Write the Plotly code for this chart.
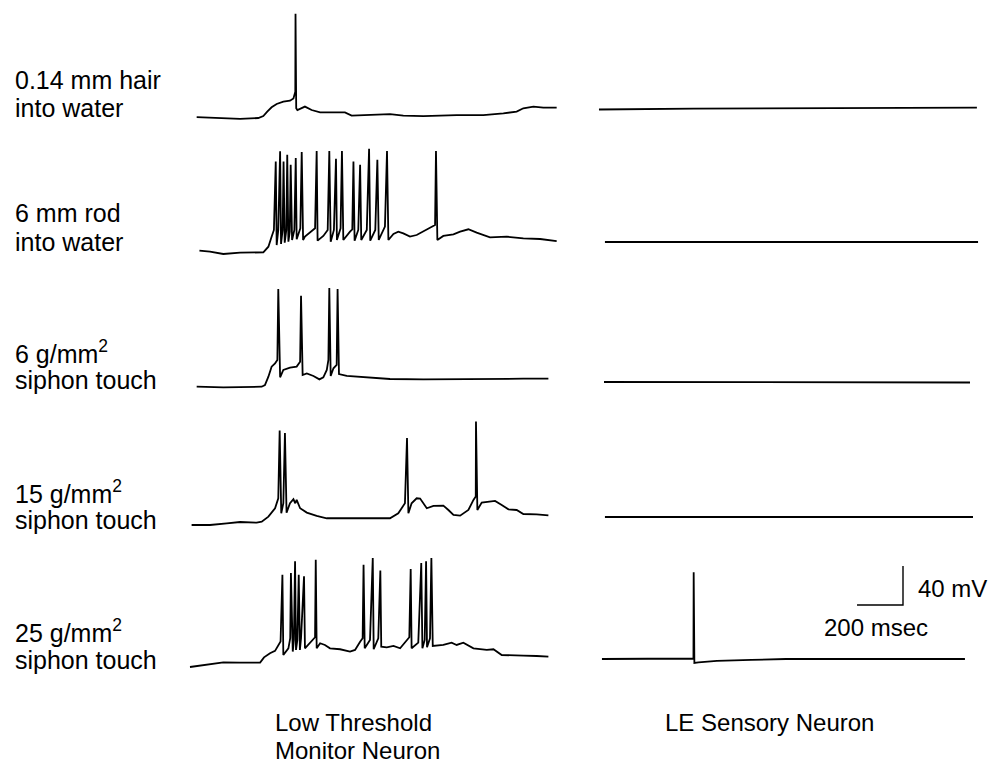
import plotly.graph_objects as go

# ---------------- data (time in ms, membrane potential in mV relative to rest) ----------------
row_labels = [
    ["0.14 mm hair", "into water"],
    ["6 mm rod", "into water"],
    ["6 g/mm<sup>2</sup>", "siphon touch"],
    ["15 g/mm<sup>2</sup>", "siphon touch"],
    ["25 g/mm<sup>2</sup>", "siphon touch"],
]
column_labels = [["Low Threshold", "Monitor Neuron"], ["LE Sensory Neuron"]]

# Low threshold monitor neuron traces
lt1_t = [29, 145, 218, 297, 319, 336, 355, 377, 406, 435, 450, 458, 459, 462, 467, 500, 529, 566, 674, 703,
         754, 870, 928, 1015, 1160, 1276, 1363, 1421, 1450, 1494, 1537, 1595]
lt1_v = [1, 0, -1, 0, 2, 6.5, 11, 14.4, 16.8, 17.8, 20, 27, 107, 10, 8.2, 11.7, 8.2, 5.8, 5.8, 2.4,
         3, 4, 2.4, 2, 3, 3, 4.8, 6.5, 10, 11.7, 10.6, 10.6]

lt2_t = [41, 87, 145, 218, 319, 341, 355, 365, 373, 377, 384, 392, 396, 403, 407, 412, 419, 423, 428, 434,
         438, 444, 454, 460, 464, 480, 486, 492, 500, 522, 544, 551, 555, 580, 599, 606, 612, 626, 635, 639,
         655, 661, 667, 696, 706, 711, 716, 732, 740, 745, 769, 779, 784, 806, 815, 821, 848, 857, 863, 885,
         906, 928, 957, 986, 1015, 1044, 1066, 1070, 1076, 1102, 1146, 1175, 1211, 1247, 1305, 1378, 1450,
         1523, 1595]
lt2_v = [0, -1, -3.4, -2, -1.7, 4.1, 14.4, 21.3, 91.6, 5.8, 21.3, 101.9, 6.9, 21.3, 91.6, 8.2, 21.3, 98.4,
         9.3, 19.6, 88.2, 11, 21.3, 95, 11.7, 23, 101.2, 11, 14.4, 18.5, 23, 102.2, 10.3, 15.1, 21.3, 102.2,
         9.3, 21.3, 94.3, 11, 23, 102.2, 11, 19.6, 22, 91.6, 10.3, 21.3, 88.2, 11, 21.3, 104.6, 10.3, 21.3,
         93.3, 11, 24.7, 102.2, 11, 17.2, 19.6, 17.8, 14.4, 16.1, 19.6, 23, 26.4, 102.2, 11, 15.1, 16.8,
         19.6, 22, 18.5, 13.7, 14.4, 12.7, 12, 9.9]

lt3_t = [29, 145, 312, 326, 341, 355, 370, 380, 384, 392, 406, 435, 464, 479, 483, 490, 508, 537, 563, 580,
         595, 602, 606, 612, 624, 638, 642, 648, 682, 754, 870, 1015, 1160, 1305, 1450, 1559]
lt3_v = [0, -0.7, 0, 1.7, 10.3, 20.6, 24, 27.4, 100.2, 9.6, 17.2, 19.6, 20.6, 25.7, 93.3, 12, 13.7, 11,
         7.5, 9.6, 17.2, 27.4, 101.2, 11, 18.9, 22.3, 100.2, 13, 11, 9.6, 7.9, 7.5, 7.9, 7.9, 8.2, 8.2]

lt4_t = [7, 87, 160, 218, 290, 312, 341, 370, 384, 390, 397, 406, 413, 420, 435, 450, 458, 464, 479, 508,
         551, 595, 725, 870, 906, 935, 944, 950, 964, 986, 1001, 1030, 1059, 1102, 1124, 1146, 1175, 1211,
         1233, 1243, 1244, 1250, 1269, 1305, 1327, 1356, 1385, 1421, 1450, 1508, 1559]
lt4_v = [0, 0, 1.7, 3.1, 2.4, 3.4, 8.6, 17.2, 27.4, 97, 12, 22.3, 94.3, 12.7, 22.3, 26.4, 22.3, 25.7, 17.2,
         12.7, 9.3, 6.9, 6.9, 6.9, 12, 22.3, 89.2, 12, 22.3, 27.4, 27.1, 17.2, 19.6, 19.9, 15.4, 10.3, 9.6,
         15.4, 25.7, 29.2, 106.3, 15.4, 23, 24, 24.7, 20.6, 16.1, 15.4, 11.3, 11, 9.9]

lt5_t = [0, 43, 87, 145, 218, 305, 322, 348, 370, 384, 394, 402, 406, 428, 436, 439, 447, 452, 457, 461, 467,
         473, 478, 483, 496, 500, 520, 544, 547, 551, 566, 587, 609, 653, 696, 718, 740, 751, 755, 760, 783,
         795, 799, 819, 828, 832, 856, 885, 914, 943, 954, 960, 964, 993, 1006, 1011, 1021, 1027, 1031, 1044,
         1050, 1056, 1102, 1138, 1160, 1189, 1233, 1291, 1320, 1356, 1407, 1450, 1508, 1559]
lt5_v = [0, 1.4, 3.1, 4.8, 4.5, 4.5, 9.9, 14.1, 16.5, 21.6, 26.1, 94.7, 12.3, 19.2, 29.5, 96.4, 15.8, 27.8,
         108.4, 17.5, 27.8, 94.7, 17.5, 29.5, 93, 19.2, 24, 30.5, 110, 19.2, 24.4, 22.6, 19.2, 18.2, 15.8,
         17.5, 26, 29.5, 105, 19.2, 27.8, 111.8, 18.2, 29.5, 99.1, 20.9, 20.2, 21.6, 19.2, 27.1, 30.5, 100.5,
         19.2, 25, 106.7, 19.2, 27.8, 108.4, 20.2, 29.5, 111.8, 21.6, 22.6, 25, 22.6, 25, 19.2, 17.5, 18.2,
         12.3, 12.3, 11.7, 11.3, 10.6]

# LE sensory neuron traces
le1_t = [-13, 400, 1631]
le1_v = [0, 1, 2]
le2_t = [13, 800, 1636]
le2_v = [0, 0, 0]
le3_t = [9, 800, 1601]
le3_v = [0, 0, -0.5]
le4_t = [13, 800, 1614]
le4_v = [0, 0, 0]
le5_t = [0, 395, 398, 399, 402, 420, 500, 650, 800, 1579]
le5_v = [0, 0, 0.5, 89, -4, -3.5, -2, -1, 0, 0]

scale_ms = 200
scale_mv = 40

# ---------------- layout constants ----------------
W, H = 994, 764
MS_PER_PX = 4.35
MV_PER_PX = 1.026
LEFT_X0_PX = 190
RIGHT_T0 = 1792
left_base_px = [118, 250.7, 386.7, 525, 667]
right_base_px = [109.5, 242, 382, 517, 659]
label_line_px = [(80, 108), (213, 242), (352, 380), (492, 520), (631, 660)]
SCALE_CORNER_PX = (903, 605)

def ybase(px):
    return -px * MV_PER_PX

def xdata(px):
    return (px - LEFT_X0_PX) * MS_PER_PX

fig = go.Figure()
line = dict(color="black", width=1.8)

left_traces = [(lt1_t, lt1_v), (lt2_t, lt2_v), (lt3_t, lt3_v), (lt4_t, lt4_v), (lt5_t, lt5_v)]
right_traces = [(le1_t, le1_v), (le2_t, le2_v), (le3_t, le3_v), (le4_t, le4_v), (le5_t, le5_v)]

for i, (t, v) in enumerate(left_traces):
    off = ybase(left_base_px[i])
    fig.add_trace(go.Scatter(x=t, y=[val + off for val in v], mode="lines", line=line,
                             hoverinfo="skip", showlegend=False))
for i, (t, v) in enumerate(right_traces):
    off = ybase(right_base_px[i])
    fig.add_trace(go.Scatter(x=[tt + RIGHT_T0 for tt in t], y=[val + off for val in v], mode="lines",
                             line=line, hoverinfo="skip", showlegend=False))

# scale bar
cx, cy = xdata(SCALE_CORNER_PX[0]), ybase(SCALE_CORNER_PX[1])
fig.add_trace(go.Scatter(x=[cx - scale_ms, cx, cx], y=[cy, cy, cy + scale_mv], mode="lines",
                         line=dict(color="black", width=1.4), hoverinfo="skip", showlegend=False))

FAMILY = "Liberation Sans, Arial, Helvetica, sans-serif"

def add_text(text, xpx, ypx, size):
    fig.add_annotation(text=text, x=xpx / W, y=1 - ypx / H, xref="paper", yref="paper",
                       xanchor="left", yanchor="middle", showarrow=False,
                       font=dict(family=FAMILY, size=size, color="black"))

for lines, (y1, y2) in zip(row_labels, label_line_px):
    add_text(lines[0], 13, y1, 25)
    add_text(lines[1], 13, y2, 25)

add_text(column_labels[0][0], 273, 722, 24)
add_text(column_labels[0][1], 273, 750, 24)
add_text(column_labels[1][0], 663, 722, 24)
add_text(f"{scale_mv} mV", 916, 588, 24)
add_text(f"{scale_ms} msec", 822, 627, 24)

fig.update_layout(
    width=W, height=H, autosize=False,
    margin=dict(l=0, r=0, t=0, b=0, pad=0),
    paper_bgcolor="white", plot_bgcolor="white",
    xaxis=dict(range=[xdata(0), xdata(W)], visible=False, fixedrange=True),
    yaxis=dict(range=[ybase(H), 0], visible=False, fixedrange=True),
)

fig.write_html("out.html", config={"displayModeBar": False, "staticPlot": True},
               post_script="document.body.style.margin='0';")
